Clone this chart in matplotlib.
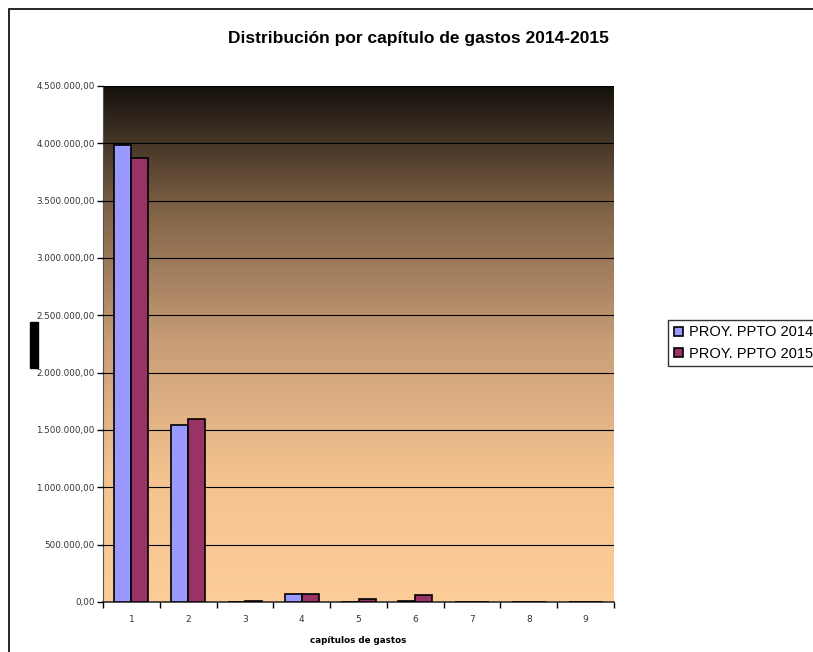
import numpy as np
import matplotlib
matplotlib.use("Agg")
import matplotlib.pyplot as plt
from matplotlib.colors import LinearSegmentedColormap
from matplotlib.patches import Rectangle

capitulos = ["1", "2", "3", "4", "5", "6", "7", "8", "9"]
ppto_2014 = [3985000, 1544000, 4000, 70000, 0, 10000, 0, 0, 0]
ppto_2015 = [3870000, 1596000, 12000, 70000, 28000, 60000, 0, 0, 0]
yticks = [0, 500000, 1000000, 1500000, 2000000, 2500000, 3000000, 3500000, 4000000, 4500000]


def fmt_es(v):
    s = "{:,.2f}".format(v)
    return s.replace(",", " ").replace(".", ",").replace(" ", ".")


fig = plt.figure(figsize=(8.13, 6.52), dpi=100)
fig.patch.set_facecolor("white")

# figure border
fig.add_artist(Rectangle((9 / 813, -0.01), 1.0, 1 - 9 / 652 + 0.01, transform=fig.transFigure,
                         fill=False, edgecolor="black", linewidth=1.2))

ax = fig.add_axes([103 / 813, 1 - 602 / 652, (614 - 103) / 813, (602 - 86) / 652])

# gradient background
cmap = LinearSegmentedColormap.from_list(
    "bg", [(0.0, "#fccc99"), (0.25, "#f3c28f"), (0.5, "#c99e78"),
           (0.75, "#846649"), (1.0, "#15110d")])
grad = np.linspace(0, 1, 256).reshape(-1, 1)
ax.imshow(grad, cmap=cmap, aspect="auto", origin="lower",
          extent=[0.5, 9.5, 0, 4500000], zorder=0)

x = np.arange(1, len(capitulos) + 1)
w = 0.3
ax.bar(x - w / 2, ppto_2014, w, color="#9999ff", edgecolor="black", linewidth=1.2,
       label="PROY. PPTO 2014", zorder=3)
ax.bar(x + w / 2, ppto_2015, w, color="#993366", edgecolor="black", linewidth=1.2,
       label="PROY. PPTO 2015", zorder=3)

ax.set_xlim(0.5, 9.5)
ax.set_ylim(0, 4500000)
ax.set_yticks(yticks)
ax.set_yticklabels([fmt_es(v) for v in yticks], fontsize=6.3, color="#333333")
ax.yaxis.grid(True, color="black", linewidth=0.8, zorder=1)
ax.set_axisbelow(False)

ax.set_xticks(x)
ax.set_xticklabels(capitulos, fontsize=6.5, color="#333333")
ax.set_xticks(np.arange(0.5, 10, 1), minor=True)
ax.tick_params(axis="x", which="major", length=0, pad=9)
ax.tick_params(axis="x", which="minor", length=4, width=1, direction="out")
ax.tick_params(axis="y", length=4, width=1, direction="out", pad=2)

for s in ["top", "right"]:
    ax.spines[s].set_visible(False)
ax.spines["left"].set_color("#555555")
ax.spines["bottom"].set_color("#333333")
ax.spines["bottom"].set_linewidth(1.2)

ax.set_xlabel("capítulos de gastos", fontsize=6.3, fontweight="bold", labelpad=9)

fig.text(418 / 813, 1 - 38 / 652, "Distribución por capítulo de gastos 2014-2015",
         ha="center", va="center", fontsize=12.5, fontweight="bold",
         family="Liberation Sans")

# redacted y-axis label block
fig.add_artist(Rectangle((30 / 813, 1 - 368 / 652), 8 / 813, 46 / 652,
                         transform=fig.transFigure, color="black"))

leg = ax.legend(loc="center left", bbox_to_anchor=(661 / 813, 1 - 343 / 652),
                bbox_transform=fig.transFigure, frameon=True, fancybox=False,
                handlelength=0.6, handleheight=0.6, handletextpad=0.4,
                borderpad=0.4, labelspacing=0.5,
                prop={"family": "Liberation Sans", "size": 10.5})
leg.get_frame().set_edgecolor("black")
leg.get_frame().set_linewidth(1.0)

fig.savefig("out.png", dpi=100)
